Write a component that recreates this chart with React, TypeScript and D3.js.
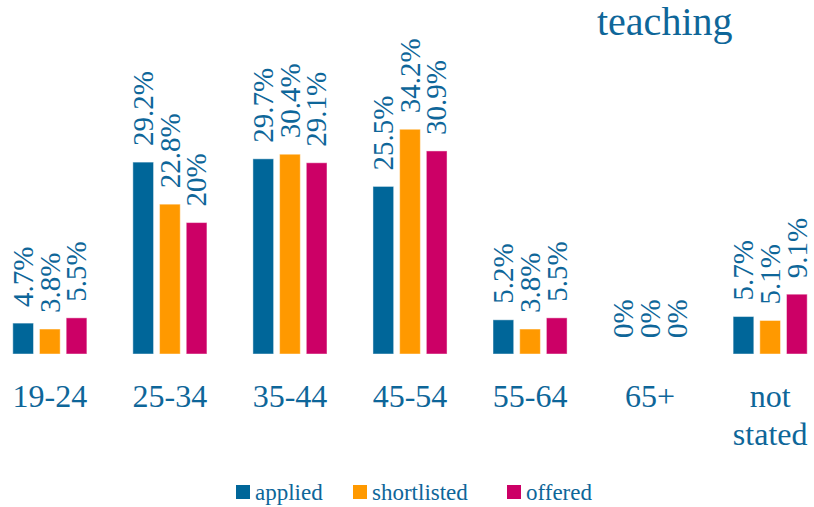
import React from "react";
import * as d3 from "d3";

const categories = ["19-24", "25-34", "35-44", "45-54", "55-64", "65+", "not stated"];
const seriesNames = ["applied", "shortlisted", "offered"];
const applied = [4.7, 29.2, 29.7, 25.5, 5.2, 0, 5.7];
const shortlisted = [3.8, 22.8, 30.4, 34.2, 3.8, 0, 5.1];
const offered = [5.5, 20, 29.1, 30.9, 5.5, 0, 9.1];
const colors = ["#006699", "#ff9900", "#cc0066"];
const title = "teaching";

const W = 814;
const H = 507;
const TEXT = "#0e6699";
const FONT = "Liberation Serif, Tinos, Times New Roman, DejaVu Serif, serif";

export default function App() {
  const series = [applied, shortlisted, offered];
  const x = d3.scaleBand<string>().domain(categories).range([-10, 830]).paddingInner(0.383).paddingOuter(0.19);
  const xi = d3.scaleBand<string>().domain(seriesNames).range([0, x.bandwidth()]).paddingInner(0.225).paddingOuter(0);
  const y = d3.scaleLinear().domain([0, 35]).range([354, 124]);

  const legendX = [236, 353, 507];
  const ts = { fontFamily: FONT };

  return (
    <svg width={W} height={H} style={{ position: "absolute", left: 0, top: 0, background: "#fff", fontFamily: FONT }}>
      <text x={597} y={35} fontSize={40} fill={TEXT} style={ts}>{title}</text>
      {categories.map((c, ci) => (
        <g key={c} transform={`translate(${x(c)},0)`}>
          {series.map((s, si) => {
            const v = s[ci];
            const bx = xi(seriesNames[si])!;
            const cx = bx + xi.bandwidth() / 2;
            return (
              <g key={si}>
                {v > 0 && (
                  <rect x={bx} y={y(v)} width={xi.bandwidth()} height={y(0) - y(v)} fill={colors[si]}
                    stroke="rgba(255,255,255,0.45)" strokeWidth={1} />
                )}
                <text transform={`translate(${cx + 9.8},${y(v) - 16}) rotate(-90)`} fontSize={29} fill={TEXT} style={ts}>
                  {`${v}%`}
                </text>
              </g>
            );
          })}
          {c === "not stated" ? (
            <text x={x.bandwidth() / 2} y={407} fontSize={32} fill={TEXT} textAnchor="middle" style={ts}>
              <tspan x={x.bandwidth() / 2} y={407}>not</tspan>
              <tspan x={x.bandwidth() / 2} y={445}>stated</tspan>
            </text>
          ) : (
            <text x={x.bandwidth() / 2} y={407} fontSize={32} fill={TEXT} textAnchor="middle" style={ts}>{c}</text>
          )}
        </g>
      ))}
      {seriesNames.map((n, i) => (
        <g key={n} transform={`translate(${legendX[i]},0)`}>
          <rect x={0} y={485} width={14} height={14} fill={colors[i]} />
          <text x={19} y={500} fontSize={23} fill={TEXT} style={ts}>{n}</text>
        </g>
      ))}
    </svg>
  );
}
